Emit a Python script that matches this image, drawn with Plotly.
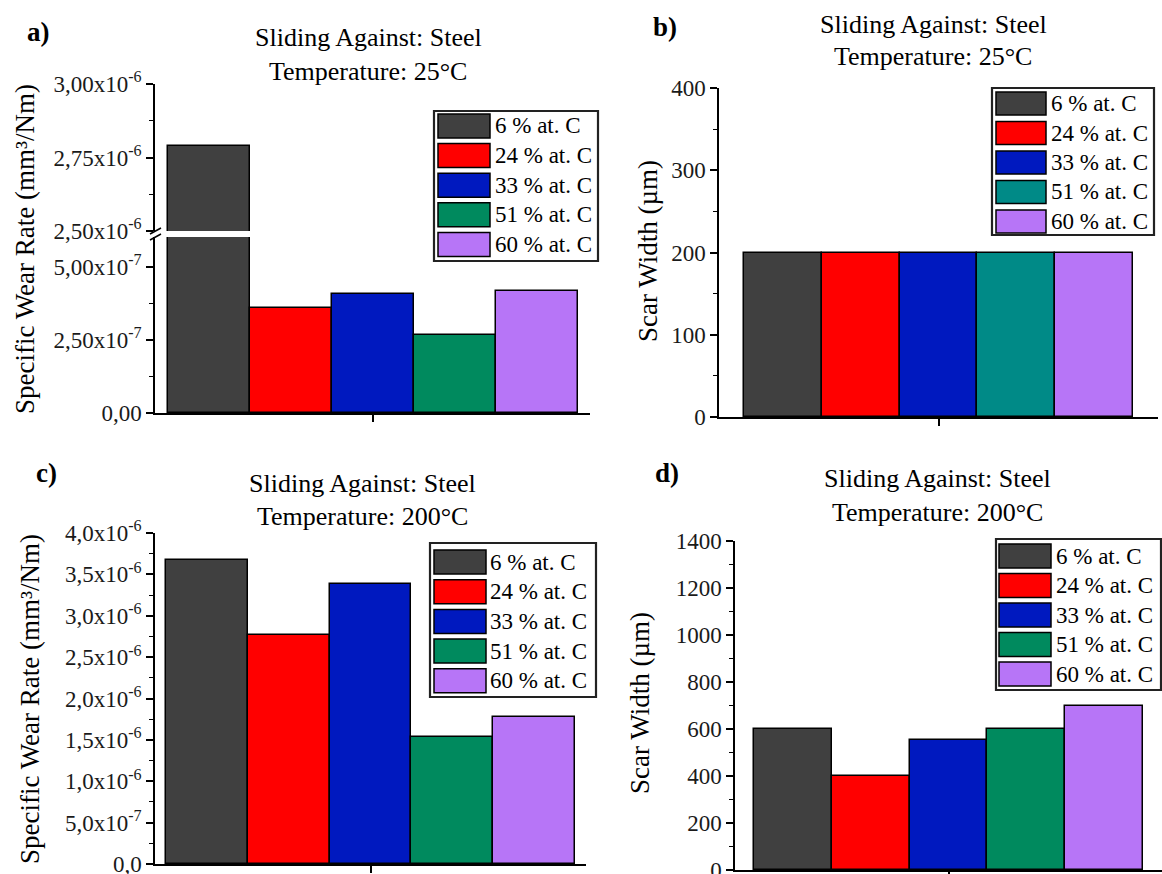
import plotly.graph_objects as go

W, H = 1162, 874
FONT = "Liberation Serif"

# ---------------- data ----------------
labels = ["6 % at. C", "24 % at. C", "33 % at. C", "51 % at. C", "60 % at. C"]
colors = ["#404040", "#ff0000", "#0019bf", "#008a5e", "#b775f7"]
colors_b = ["#404040", "#ff0000", "#0019bf", "#008a87", "#b775f7"]

wear_25 = [2.79e-6, 3.61e-7, 4.07e-7, 2.67e-7, 4.18e-7]
scar_25 = [200, 200, 200, 200, 200]
wear_200 = [3.67e-6, 2.77e-6, 3.38e-6, 1.54e-6, 1.78e-6]
scar_200 = [600, 400, 552, 598, 700]

a_up_vals = [2.5e-6, 2.75e-6, 3.0e-6]
a_up_text = ["2,50x10<sup>-6</sup>", "2,75x10<sup>-6</sup>", "3,00x10<sup>-6</sup>"]
a_lo_vals = [0, 2.5e-7, 5.0e-7]
a_lo_text = ["0,00", "2,50x10<sup>-7</sup>", "5,00x10<sup>-7</sup>"]
b_vals = [0, 100, 200, 300, 400]
b_text = ["0", "100", "200", "300", "400"]
c_vals = [0, 5e-7, 1.0e-6, 1.5e-6, 2.0e-6, 2.5e-6, 3.0e-6, 3.5e-6, 4.0e-6]
c_text = ["0,0", "5,0x10<sup>-7</sup>", "1,0x10<sup>-6</sup>", "1,5x10<sup>-6</sup>",
          "2,0x10<sup>-6</sup>", "2,5x10<sup>-6</sup>", "3,0x10<sup>-6</sup>",
          "3,5x10<sup>-6</sup>", "4,0x10<sup>-6</sup>"]
d_vals = [0, 200, 400, 600, 800, 1000, 1200, 1400]
d_text = ["0", "200", "400", "600", "800", "1000", "1200", "1400"]

title_line1 = "Sliding Against: Steel"
t25 = "Temperature: 25°C"
t200 = "Temperature: 200°C"
ytitle_wear = "Specific Wear Rate (mm³/Nm)"
ytitle_scar = "Scar Width (µm)"


def px(x):
    return x / W


def py(y):
    return 1 - y / H


fig = go.Figure()


def add_bars(vals, cols, xa, ya):
    for lab, v, c in zip(labels, vals, cols):
        fig.add_trace(go.Bar(x=[0], y=[v], name=lab, marker=dict(color=c, line=dict(color="black", width=1.5)),
                             xaxis=xa, yaxis=ya, showlegend=False))


add_bars(wear_25, colors, "x", "y")
add_bars(wear_25, colors, "x", "y2")
add_bars(scar_25, colors_b, "x2", "y3")
add_bars(wear_200, colors, "x3", "y4")
add_bars(scar_200, colors, "x4", "y5")

tickfont = dict(family=FONT, size=23, color="#1a1a1a")


def xax(x0, x1, anchor, half):
    return dict(domain=[px(x0), px(x1)], anchor=anchor, range=[-half, half], automargin=False,
                showline=True, linecolor="black", linewidth=1.5,
                tickmode="array", tickvals=[0], ticks="outside", ticklen=7, tickwidth=1.5,
                tickcolor="black", showticklabels=False, showgrid=False, zeroline=False, fixedrange=True)


def yax(y0, y1, anchor, rng, vals, text, minor_dtick):
    return dict(domain=[py(y1), py(y0)], anchor=anchor, range=rng, automargin=False,
                showline=True, linecolor="black", linewidth=1.5,
                tickmode="array", tickvals=vals, ticktext=text, ticks="outside", ticklen=7,
                tickwidth=1.5, tickcolor="black", tickfont=tickfont, ticklabeloverflow="allow",
                minor=dict(dtick=minor_dtick, tick0=0, ticks="outside", ticklen=4, tickwidth=1.2,
                           tickcolor="black", showgrid=False),
                showgrid=False, zeroline=False, fixedrange=True)


layout = dict(
    width=W, height=H, margin=dict(l=0, r=0, t=0, b=0, pad=0, autoexpand=False),
    paper_bgcolor="white", plot_bgcolor="white",
    barmode="group", bargap=0, bargroupgap=0, showlegend=False,
    font=dict(family=FONT, color="black"),
    xaxis=xax(155, 590, "y", 0.5305),
    yaxis=yax(237, 413, "x", [0, 6.03e-7], a_lo_vals, a_lo_text, 1.25e-7),
    yaxis2=yax(84, 231, "x", [2.5e-6, 3.0e-6], a_up_vals, a_up_text, 1.25e-7),
    xaxis2=xax(719, 1158, "y3", 0.563),
    yaxis3=yax(88, 417, "x2", [0, 400], b_vals, b_text, 50),
    xaxis3=xax(155, 586, "y4", 0.526),
    yaxis4=yax(533, 864, "x3", [0, 4.0e-6], c_vals, c_text, 2.5e-7),
    xaxis4=xax(735, 1162, "y5", 0.55),
    yaxis5=yax(541, 870, "x4", [0, 1400], d_vals, d_text, 100),
)
fig.update_layout(**layout)

annotations = []
shapes = []


def text(x, y, s, size, bold=False, angle=0, xanchor="center"):
    annotations.append(dict(x=px(x), y=py(y), xref="paper", yref="paper", text=("<b>%s</b>" % s) if bold else s,
                            showarrow=False, xanchor=xanchor, yanchor="middle", textangle=angle,
                            font=dict(family=FONT, size=size, color="black")))


# panel letters
text(38, 32, "a)", 27, bold=True)
text(665, 27, "b)", 27, bold=True)
text(46, 473, "c)", 27, bold=True)
text(667, 473, "d)", 27, bold=True)

# titles
text(368, 38, title_line1, 26)
text(368, 72, t25, 26)
text(933, 25, title_line1, 26)
text(933, 57, t25, 26)
text(362, 483, title_line1, 26)
text(362, 516, t200, 26)
text(937, 479, title_line1, 26)
text(937, 512, t200, 26)

# y titles
text(25, 249, ytitle_wear, 27, angle=-90)
text(648, 251, ytitle_scar, 27, angle=-90)
text(30, 699, ytitle_wear, 27, angle=-90)
text(640, 703, ytitle_scar, 27, angle=-90)


def legend(box, sx0, sx1, sy0, step, sh, tx, cols):
    shapes.append(dict(type="rect", xref="paper", yref="paper", x0=px(box[0]), x1=px(box[2]),
                       y0=py(box[3]), y1=py(box[1]), line=dict(color="#222", width=2.2), fillcolor="white"))
    for i, (lab, c) in enumerate(zip(labels, cols)):
        y0 = sy0 + i * step
        shapes.append(dict(type="rect", xref="paper", yref="paper", x0=px(sx0), x1=px(sx1),
                           y0=py(y0 + sh), y1=py(y0), line=dict(color="black", width=1.5), fillcolor=c))
        text(tx, y0 + sh / 2, lab, 23, xanchor="left")


legend((434, 111, 598, 261), 438, 490, 114, 29.6, 24, 493, colors)
legend((992, 88, 1154, 235), 996, 1046, 92, 29.5, 23, 1049, colors_b)
legend((430, 543, 596, 697), 434, 486, 550, 29.7, 24, 488, colors)
legend((996, 539, 1161, 690), 999, 1051, 544, 29.5, 24, 1054, colors)

# axis-break marks on panel a
for yb in (231, 237):
    shapes.append(dict(type="line", xref="paper", yref="paper", x0=px(150), x1=px(161),
                       y0=py(yb + 3), y1=py(yb - 3), line=dict(color="black", width=1.5)))

fig.update_layout(annotations=annotations, shapes=shapes)
fig.write_html("out.html")
